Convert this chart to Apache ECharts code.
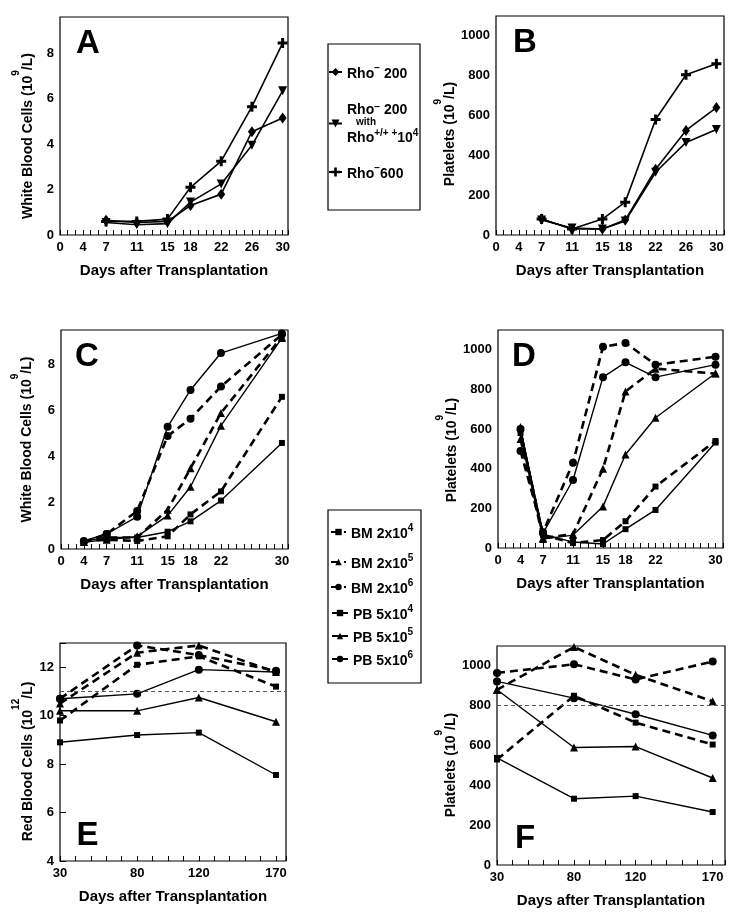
<!DOCTYPE html>
<html><head><meta charset="utf-8">
<script src="https://cdn.jsdelivr.net/npm/echarts@6/dist/echarts.min.js"></script>
<style>html,body{margin:0;padding:0;background:#fff}#c{width:745px;height:920px}</style>
</head><body><div id="c"></div>
<script>
// ---------- DATA ----------
const daysAB = [7, 11, 15, 18, 22, 26, 30];
const wbcRho200 = [0.65, 0.55, 0.6, 1.3, 1.8, 4.55, 5.15];
const wbcRho200With = [0.55, 0.45, 0.5, 1.45, 2.25, 3.95, 6.35];
const wbcRho600 = [0.6, 0.6, 0.7, 2.1, 3.25, 5.65, 8.45];
const pltRho200 = [80, 30, 30, 75, 330, 525, 640];
const pltRho200With = [75, 35, 30, 70, 315, 465, 530];
const pltRho600 = [80, 30, 80, 165, 580, 805, 860];

const daysCD = [4, 7, 11, 15, 18, 22, 30];
const wbcBM4 = [0.35, 0.4, 0.35, 0.55, 1.5, 2.5, 6.6];
const wbcBM5 = [0.3, 0.5, 0.5, 1.7, 3.5, 5.9, 9.2];
const wbcBM6 = [0.3, 0.65, 1.65, 4.9, 5.65, 7.05, 9.3];
const wbcPB4 = [0.35, 0.5, 0.5, 0.75, 1.2, 2.1, 4.6];
const wbcPB5 = [0.3, 0.4, 0.55, 1.45, 2.7, 5.35, 9.15];
const wbcPB6 = [0.35, 0.65, 1.4, 5.3, 6.9, 8.5, 9.35];

const pltBM4 = [580, 65, 25, 40, 135, 310, 540];
const pltBM5 = [550, 50, 70, 400, 790, 905, 880];
const pltBM6 = [490, 80, 430, 1015, 1035, 925, 965];
const pltPB4 = [600, 70, 30, 20, 95, 192, 532];
const pltPB5 = [610, 45, 65, 210, 472, 657, 882];
const pltPB6 = [600, 75, 343, 862, 937, 862, 925];

const daysEF = [30, 80, 120, 170];
const rbcBM4 = [9.8, 12.1, 12.45, 11.2];
const rbcBM5 = [10.5, 12.6, 12.9, 11.8];
const rbcBM6 = [10.7, 12.9, 12.5, 11.85];
const rbcPB4 = [8.9, 9.2, 9.3, 7.55];
const rbcPB5 = [10.2, 10.2, 10.75, 9.75];
const rbcPB6 = [10.7, 10.9, 11.9, 11.8];
const lpltBM4 = [530, 850, 715, 605];
const lpltBM5 = [880, 1095, 955, 822];
const lpltBM6 = [965, 1008, 932, 1022];
const lpltPB4 = [538, 333, 346, 266];
const lpltPB5 = [880, 590, 595, 437];
const lpltPB6 = [922, 838, 757, 651];

const xTicksAB = [4, 7, 11, 15, 18, 22, 26, 30];
const xTicksCD = [4, 7, 11, 15, 18, 22, 30];
const xTicksEF = [30, 80, 120, 170];
const yTicksWBC = [0, 2, 4, 6, 8];
const yTicksPLT = [0, 200, 400, 600, 800, 1000];
const yTicksRBC = [4, 6, 8, 10, 12];
const rbcNormal = 11;
const pltNormal = 800;

const namesRho = ['Rho- 200', 'Rho- 200 with Rho+/+ 10^4', 'Rho- 600'];
const namesBMPB = ['BM 2x10^4', 'BM 2x10^5', 'BM 2x10^6', 'PB 5x10^4', 'PB 5x10^5', 'PB 5x10^6'];

// ---------- CHART ----------
const FONT = 'Liberation Sans, Arial, Helvetica, sans-serif';
const chart = echarts.init(document.getElementById('c'), null, {renderer: 'canvas'});

const grids = [
  {left: 60, top: 17, width: 228, height: 218},
  {left: 496, top: 16, width: 228, height: 219},
  {left: 61, top: 330, width: 227, height: 219},
  {left: 498, top: 330, width: 225, height: 218},
  {left: 60, top: 643, width: 226, height: 218},
  {left: 497, top: 646, width: 228, height: 219}
].map(g => Object.assign({show: true, borderColor: '#000', borderWidth: 1.2, backgroundColor: 'transparent', containLabel: false}, g));

function xAxis(idx, min, max, interval, ticks, zeroAtMin) {
  return {
    type: 'value', gridIndex: idx, min, max, interval,
    axisLine: {show: false}, splitLine: {show: false},
    axisTick: {show: true, inside: true, length: 5, lineStyle: {color: '#000', width: 1}},
    axisLabel: {
      margin: 6, fontSize: 13, fontWeight: 'bold', color: '#000', fontFamily: FONT,
      showMinLabel: true, showMaxLabel: true, hideOverlap: false,
      formatter: v => (zeroAtMin && Math.abs(v - min) < 1e-6) ? '0' : (ticks.includes(Math.round(v * 1000) / 1000) ? String(Math.round(v)) : '')
    },
    name: 'Days after Transplantation', nameLocation: 'middle', nameGap: 28,
    nameTextStyle: {fontSize: 15, fontWeight: 'bold', color: '#000', fontFamily: FONT}
  };
}
const rich = {
  a: {fontSize: 14, fontWeight: 'bold', color: '#000', fontFamily: FONT, lineHeight: 24, verticalAlign: 'bottom'},
  s: {fontSize: 10, fontWeight: 'bold', color: '#000', fontFamily: FONT, lineHeight: 24, verticalAlign: 'top'}
};
function yAxis(idx, min, max, interval, ticks, nameRich, gap, shift, showTick) {
  return {
    type: 'value', gridIndex: idx, min, max, interval,
    axisLine: {show: false}, splitLine: {show: false},
    axisTick: {show: !!showTick, inside: true, length: 6, lineStyle: {color: '#000', width: 1}},
    axisLabel: {
      margin: 6, fontSize: 13, fontWeight: 'bold', color: '#000', fontFamily: FONT,
      showMaxLabel: true, hideOverlap: false,
      formatter: v => ticks.includes(v) ? String(v) : ''
    },
    name: nameRich, nameLocation: 'middle', nameGap: gap, nameRotate: 90,
    nameTextStyle: {rich, padding: [0, shift, 0, 0]}
  };
}
const wbcName = '{a|White Blood Cells (10}{s|9}{a|/L)}';
const pltName = '{a|Platelets (10}{s|9}{a|/L)}';
const rbcName = '{a|Red Blood Cells (10}{s|12}{a|/L)}';

const xAxes = [
  xAxis(0, 1, 30.7, 1, xTicksAB, true),
  xAxis(1, 1, 31, 1, xTicksAB, true),
  xAxis(2, 1, 30.8, 1, xTicksCD, true),
  xAxis(3, 1, 31, 1, xTicksCD, true),
  xAxis(4, 30, 176.5, 10, xTicksEF, false),
  xAxis(5, 30, 178, 10, xTicksEF, false)
];
const yAxes = [
  yAxis(0, 0, 9.6, 2, yTicksWBC, wbcName, 25, 20),
  yAxis(1, 0, 1100, 200, yTicksPLT, pltName, 36, 17),
  yAxis(2, 0, 9.5, 2, yTicksWBC, wbcName, 27, 0),
  yAxis(3, 0, 1100, 200, yTicksPLT, pltName, 38, 22),
  yAxis(4, 4, 13, 2, yTicksRBC, rbcName, 22, 19, true),
  yAxis(5, 0, 1100, 200, yTicksPLT, pltName, 38, 19)
];

const PLUS = 'path://M3.5,0H6.5V3.5H10V6.5H6.5V10H3.5V6.5H0V3.5H3.5Z';
function line(name, g, xs, ys, symbol, size, dashed, extra) {
  return Object.assign({
    type: 'line', name, xAxisIndex: g, yAxisIndex: g,
    data: xs.map((x, i) => [x, ys[i]]),
    symbol, symbolSize: size, showSymbol: true, animation: false, silent: true,
    color: '#000',
    lineStyle: {color: '#000', width: dashed ? 2.6 : 1.4, type: dashed ? [8, 5] : 'solid'},
    itemStyle: {color: '#000', borderWidth: 0},
    emphasis: {disabled: true}, z: 3
  }, extra || {});
}
function refLine(val) {
  return {silent: true, symbol: 'none', label: {show: false}, animation: false,
    lineStyle: {type: [4, 3], color: '#555', width: 1}, data: [{yAxis: val}]};
}

const rhoSym = [['diamond', [8, 11], {}], ['triangle', 9, {symbolRotate: 180}], [PLUS, 10, {}]];
const bmpbSym = [['rect', 6, true], ['triangle', 8, true], ['circle', 8, true], ['rect', 6, false], ['triangle', 8, false], ['circle', 8, false]];

const series = [];
[[wbcRho200, wbcRho200With, wbcRho600, 0], [pltRho200, pltRho200With, pltRho600, 1]].forEach(set => {
  const g = set[3];
  for (let i = 0; i < 3; i++) series.push(line(namesRho[i], g, daysAB, set[i], rhoSym[i][0], rhoSym[i][1], false, Object.assign({}, rhoSym[i][2], {lineStyle: {color: '#000', width: 1.6}})));
});
const cfSets = [
  [2, daysCD, [wbcBM4, wbcBM5, wbcBM6, wbcPB4, wbcPB5, wbcPB6], null],
  [3, daysCD, [pltBM4, pltBM5, pltBM6, pltPB4, pltPB5, pltPB6], null],
  [4, daysEF, [rbcBM4, rbcBM5, rbcBM6, rbcPB4, rbcPB5, rbcPB6], rbcNormal],
  [5, daysEF, [lpltBM4, lpltBM5, lpltBM6, lpltPB4, lpltPB5, lpltPB6], pltNormal]
];
cfSets.forEach(([g, xs, arrs, ref]) => {
  arrs.forEach((ys, i) => {
    const extra = {};
    if (ref !== null && i === 0) extra.markLine = refLine(ref);
    series.push(line(namesBMPB[i], g, xs, ys, bmpbSym[i][0], bmpbSym[i][1], bmpbSym[i][2], extra));
  });
});

const lrich = {
  a: {fontSize: 14, fontWeight: 'bold', color: '#000', fontFamily: FONT, lineHeight: 18, verticalAlign: 'bottom'},
  s: {fontSize: 10, fontWeight: 'bold', color: '#000', fontFamily: FONT, lineHeight: 18, verticalAlign: 'top'},
  a1: {fontSize: 14, fontWeight: 'bold', color: '#000', fontFamily: FONT, lineHeight: 15, verticalAlign: 'bottom'},
  s1: {fontSize: 10, fontWeight: 'bold', color: '#000', fontFamily: FONT, lineHeight: 15, verticalAlign: 'top'},
  w: {fontSize: 10, fontWeight: 'bold', color: '#000', fontFamily: FONT, lineHeight: 11, padding: [0, 0, 0, 9]},
  a3: {fontSize: 14, fontWeight: 'bold', color: '#000', fontFamily: FONT, lineHeight: 17, verticalAlign: 'bottom'},
  s3: {fontSize: 10, fontWeight: 'bold', color: '#000', fontFamily: FONT, lineHeight: 17, verticalAlign: 'top'}
};
const legendText = {
  'Rho- 200': '{a|Rho}{s|−}{a| 200}',
  'Rho- 200 with Rho+/+ 10^4': '{a1|Rho}{s1|−}{a1| 200}\n{w|with}\n{a3|Rho}{s3|+/+ +}{a3|10}{s3|4}',
  'Rho- 600': '{a|Rho}{s|−}{a|600}',
  'BM 2x10^4': '{a|BM 2x10}{s|4}', 'BM 2x10^5': '{a|BM 2x10}{s|5}', 'BM 2x10^6': '{a|BM 2x10}{s|6}',
  'PB 5x10^4': '{a|PB 5x10}{s|4}', 'PB 5x10^5': '{a|PB 5x10}{s|5}', 'PB 5x10^6': '{a|PB 5x10}{s|6}'
};
function leg(name, left, top, w, h) {
  return {data: [name], left, top, orient: 'vertical', padding: 0, itemGap: 0,
    itemWidth: w, itemHeight: h, selectedMode: false,
    formatter: n => legendText[n], textStyle: {rich: lrich}};
}
const legends = [
  leg(namesRho[0], 328, 63, 13, 10),
  leg(namesRho[1], 328, 102, 13, 10),
  leg(namesRho[2], 328, 163, 13, 11),
  leg(namesBMPB[0], 330, 523, 15, 8),
  leg(namesBMPB[1], 330, 553, 15, 8),
  leg(namesBMPB[2], 330, 578, 15, 8),
  leg(namesBMPB[3], 331, 604, 16, 8),
  leg(namesBMPB[4], 331, 627, 16, 8),
  leg(namesBMPB[5], 331, 650, 16, 8)
];

function letter(t, x, y) {
  return {type: 'text', x, y, silent: true, z: 10,
    style: {text: t, fill: '#000', font: 'bold 33px ' + FONT, align: 'center', verticalAlign: 'middle', textAlign: 'center', textVerticalAlign: 'middle'}};
}
const graphic = [
  {type: 'rect', shape: {x: 328, y: 44, width: 92, height: 166}, style: {fill: 'none', stroke: '#000', lineWidth: 1.2}, silent: true},
  {type: 'rect', shape: {x: 328, y: 510, width: 93, height: 173}, style: {fill: 'none', stroke: '#000', lineWidth: 1.2}, silent: true},
  letter('A', 88, 44), letter('B', 525, 43), letter('C', 87, 357),
  letter('D', 524, 357), letter('E', 87.5, 836), letter('F', 525, 839)
];

chart.setOption({
  animation: false,
  backgroundColor: '#fff',
  textStyle: {fontFamily: FONT},
  grid: grids, xAxis: xAxes, yAxis: yAxes, series, legend: legends, graphic
});
</script>
</body></html>
